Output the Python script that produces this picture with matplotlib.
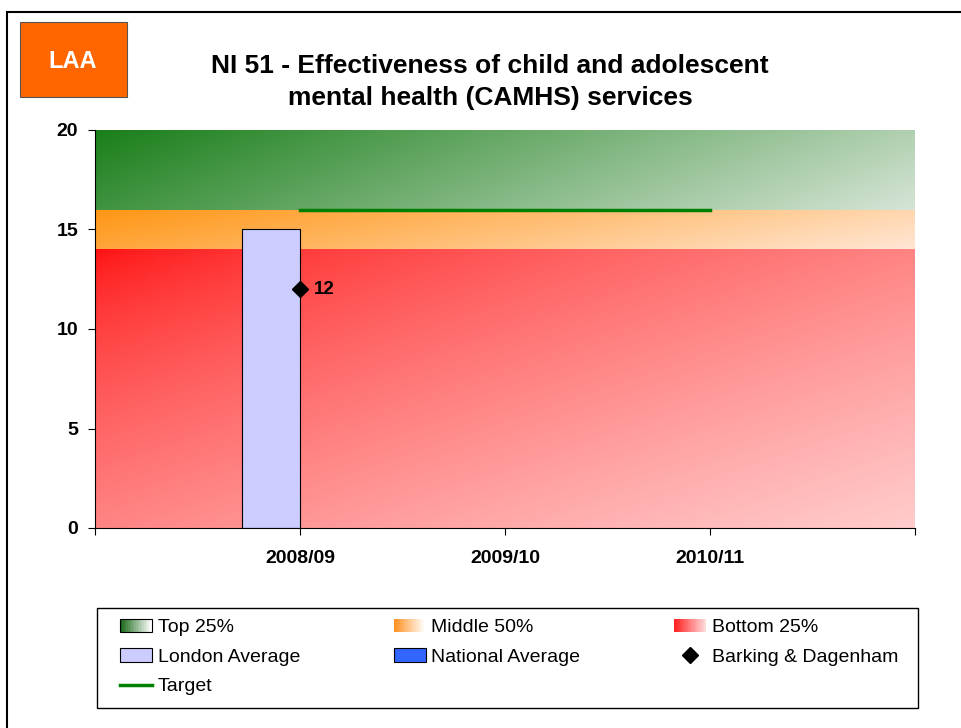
import numpy as np
import matplotlib.pyplot as plt
from matplotlib.patches import Rectangle
from matplotlib.lines import Line2D
from matplotlib.legend_handler import HandlerBase
from matplotlib.colors import LinearSegmentedColormap

plt.rcParams['font.family'] = ['Liberation Sans', 'DejaVu Sans']

# data
years = ["2008/09", "2009/10", "2010/11"]
london_avg = [15, None, None]
national_avg = [None, None, None]
barking = [12, None, None]
target = [16, 16, 16]
bands = [(0, 14), (14, 16), (16, 20)]  # bottom 25%, middle 50%, top 25%

band_colors = [
    ("#ff1010", "#ffcccc"),
    ("#ff9614", "#ffe6d4"),
    ("#1a7f1a", "#d6e4d6"),
]
band_slope = [0.5, 0.2, 0.2]  # share of vertical direction in the gradient
band_gamma = [0.7, 1.0, 1.0]

fig = plt.figure(figsize=(9.61, 7.28), dpi=100)
ax = fig.add_axes([95/961, 1-528/728, 820/961, 398/728])

x = np.arange(1, len(years) + 1)
ax.set_xlim(0, 4)
ax.set_ylim(0, 20)

# gradient bands (diagonal, dark top-left to pale bottom-right)
gx, gy = np.meshgrid(np.linspace(0, 1, 300), np.linspace(0, 1, 100))
for (lo, hi), (c0, c1), s, g in zip(bands, band_colors, band_slope, band_gamma):
    cmap = LinearSegmentedColormap.from_list("g", [c0, c1])
    t = ((1 - s) * gx + s * gy) ** g
    ax.imshow(t, cmap=cmap, extent=[0, 4, lo, hi], origin="upper",
              aspect="auto", zorder=0, vmin=0, vmax=1)

# bars
w = 0.285
lx = [xi for xi, v in zip(x, london_avg) if v is not None]
lv = [v for v in london_avg if v is not None]
ax.bar(np.array(lx) - w, lv, width=w, align="edge", color="#ccccff",
       edgecolor="black", linewidth=0.8, zorder=2)

# target
ax.plot(x, target, color="#008000", linewidth=2.5, zorder=3)

# Barking & Dagenham
bx = [xi for xi, v in zip(x, barking) if v is not None]
bv = [v for v in barking if v is not None]
ax.plot(bx, bv, "D", color="black", markersize=8, zorder=4)
for xi, v in zip(bx, bv):
    ax.annotate(str(v), (xi, v), xytext=(10, 0), textcoords="offset points",
                va="center", ha="left", fontsize=13.5, fontweight="bold")

ax.set_xticks(range(0, 5))
ax.set_xticklabels([""] + years + [""])
ax.set_yticks(range(0, 21, 5))
ax.tick_params(axis="x", direction="out", length=5, pad=11, labelsize=14)
ax.tick_params(axis="y", direction="out", length=5, pad=7, labelsize=14)
for lab in ax.get_xticklabels() + ax.get_yticklabels():
    lab.set_fontweight("bold")
ax.spines["right"].set_visible(False)
ax.spines["top"].set_visible(False)

# title
fig.text(0.51, 1 - 82/728, "NI 51 - Effectiveness of child and adolescent\nmental health (CAMHS) services",
         ha="center", va="center", fontsize=19, fontweight="bold", linespacing=1.4)

# LAA box
fig.patches.append(Rectangle((20/961, 1-97/728), 107/961, 75/728, transform=fig.transFigure,
                             facecolor="#ff6600", edgecolor="#555555", linewidth=0.8))
fig.text(73/961, 1-62/728, "LAA", color="white", fontsize=17, fontweight="bold",
         ha="center", va="center")

# outer frame
fig.patches.append(Rectangle((7/961, -0.1), 1.2, 1 - 12/728 + 0.1, transform=fig.transFigure,
                             facecolor="none", edgecolor="black", linewidth=1.5))

# legend frame
fig.patches.append(Rectangle((97/961, 1-708/728), 821/961, 100/728, transform=fig.transFigure,
                             facecolor="white", edgecolor="black", linewidth=1.0))


class GradHandler(HandlerBase):
    def __init__(self, c0, c1, edge=None):
        super().__init__()
        self.c0, self.c1, self.edge = c0, c1, edge

    def create_artists(self, legend, orig, xd, yd, width, height, fontsize, trans):
        cmap = LinearSegmentedColormap.from_list("g", [self.c0, self.c1])
        n = 20
        arts = []
        for i in range(n):
            arts.append(Rectangle((xd + width * i / n, yd), width / n + 0.3, height,
                                  facecolor=cmap(i / (n - 1)), edgecolor="none",
                                  transform=trans))
        if self.edge:
            arts.append(Rectangle((xd, yd), width, height, facecolor="none",
                                  edgecolor=self.edge, linewidth=0.8, transform=trans))
        return arts


h_top = Rectangle((0, 0), 1, 1)
h_mid = Rectangle((0, 0), 1, 1)
h_bot = Rectangle((0, 0), 1, 1)
h_lon = Rectangle((0, 0), 1, 1, facecolor="#ccccff", edgecolor="black", linewidth=0.8)
h_nat = Rectangle((0, 0), 1, 1, facecolor="#3366ff", edgecolor="black", linewidth=0.8)
h_bar = Line2D([], [], marker="D", color="black", linestyle="none", markersize=8)
h_tar = Line2D([], [], color="#008000", linewidth=2.5)

handles = [h_top, h_lon, h_tar, h_mid, h_nat, h_bot, h_bar]
labels = ["Top 25%", "London Average", "Target", "Middle 50%", "National Average",
          "Bottom 25%", "Barking & Dagenham"]
leg = fig.legend(handles, labels, ncol=3, loc="center",
                 bbox_to_anchor=(120/961, 1-702/728, 778/961, 90/728), mode="expand",
                 fontsize=14, frameon=False,
                 handlelength=1.65, handleheight=0.7, handletextpad=0.3,
                 labelspacing=0.62, borderpad=0.0, borderaxespad=0.0,
                 handler_map={h_top: GradHandler("#1a6a1a", "#ffffff", "black"),
                              h_mid: GradHandler("#ff9020", "#ffffff"),
                              h_bot: GradHandler("#ff2020", "#ffd8d8")})

fig.savefig("out.png", dpi=100)
